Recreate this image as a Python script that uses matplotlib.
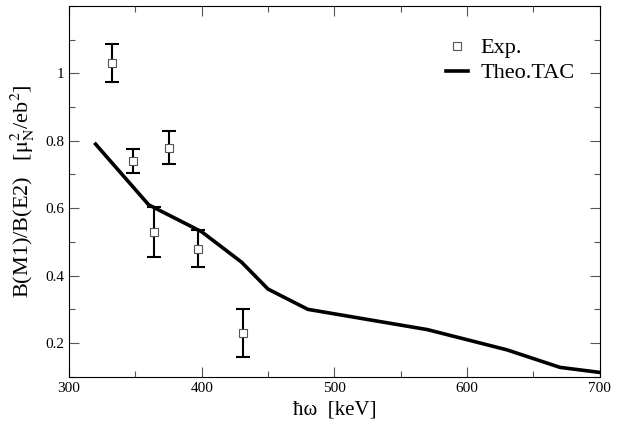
import numpy as np
import matplotlib
matplotlib.use('Agg')
import matplotlib.pyplot as plt
from matplotlib.ticker import MultipleLocator

plt.rcParams['font.family'] = ['Liberation Serif', 'DejaVu Serif']
plt.rcParams['mathtext.fontset'] = 'stix'

# Dữ liệu thực nghiệm
exp_x = [332, 348, 375, 364, 397, 431]
exp_y = [1.03, 0.74, 0.78, 0.53, 0.48, 0.23]
exp_err = [0.057, 0.035, 0.05, 0.075, 0.055, 0.07]

# Tính toán lý thuyết TAC
tac_x = [320, 360, 400, 430, 450, 480, 510, 540, 570, 600, 630, 670, 700]
tac_y = [0.79, 0.61, 0.53, 0.44, 0.36, 0.30, 0.28, 0.26, 0.24, 0.21, 0.18, 0.128, 0.113]

fig = plt.figure(figsize=(6.28, 4.21), dpi=100)
ax = fig.add_axes([0.110, 0.105, 0.845, 0.881])

ax.errorbar(exp_x, exp_y, yerr=exp_err, fmt='none', ecolor='black',
            elinewidth=1.5, capsize=5, capthick=1.5, zorder=2)
ax.plot(exp_x, exp_y, linestyle='none', marker='s', markersize=6,
        markerfacecolor='white', markeredgecolor='#555555', markeredgewidth=0.8,
        label='Exp.', zorder=3)
ax.plot(tac_x, tac_y, color='black', linewidth=2.6, label='Theo.TAC', zorder=1)

ax.set_xlim(300, 700)
ax.set_ylim(0.1, 1.2)
ax.xaxis.set_major_locator(MultipleLocator(100))
ax.xaxis.set_minor_locator(MultipleLocator(50))
ax.yaxis.set_minor_locator(MultipleLocator(0.1))
ax.set_yticks([0.2, 0.4, 0.6, 0.8, 1.0])
ax.set_yticklabels(['0.2', '0.4', '0.6', '0.8', '1'])
ax.tick_params(which='both', direction='in', top=True, right=True, labelsize=11)
ax.tick_params(which='major', length=7, width=0.8, color='#555555')
ax.tick_params(which='minor', length=4, width=0.8, color='#555555')

ax.set_xlabel('ħω  [keV]', fontsize=15, labelpad=4)
ax.set_ylabel(r'B(M1)/B(E2)   [$\mathrm{μ}_\mathrm{N}^2$/eb$^2$]', fontsize=16, labelpad=6)

ax.legend(loc='upper right', frameon=False, fontsize=16, handlelength=1.0,
          handletextpad=0.55, labelspacing=0.2, bbox_to_anchor=(0.99, 0.968))

fig.savefig('out.png', dpi=100)
